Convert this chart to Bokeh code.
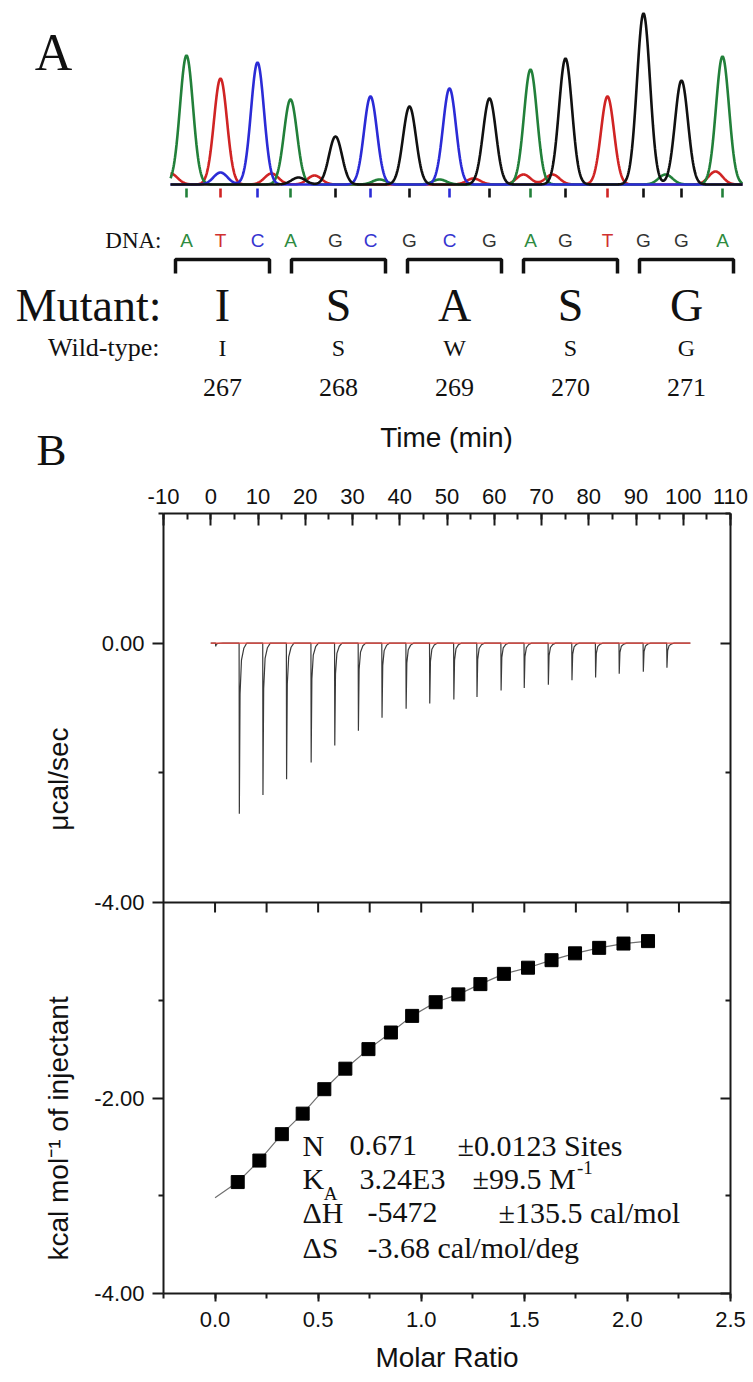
import numpy as np
from bokeh.plotting import figure
from bokeh.models import (Range1d, LinearAxis, FixedTicker, SingleIntervalTicker, Label,
                          CustomJSTickFormatter, NumeralTickFormatter, Span)
from bokeh.embed import file_html
from bokeh.resources import INLINE
from bokeh.core.properties import value

SERIF = "Liberation Serif"
SANS = "Liberation Sans"

# ---------------- Panel A data: Sanger chromatogram ----------------
base_calls = ["A", "T", "C", "A", "G", "C", "G", "C", "G", "A", "G", "T", "G", "G", "A"]
base_scan = [32, 100, 174, 240, 330, 400, 478, 558, 638, 720, 790, 874, 946, 1022, 1104]
peak_signal = [1290, 1060, 1220, 850, 480, 880, 780, 960, 860, 1150, 1260, 880, 1710, 1040, 1280]
minor_call = ["T", "C", "T", "G", "T", "A", "A", "T", "T", "T", "A", "T"]
minor_scan = [0, 100, 202, 256, 288, 418, 538, 606, 706, 764, 990, 1090]
minor_signal = [110, 120, 110, 70, 90, 50, 50, 60, 100, 100, 100, 130]
scan_count = 1145

mutant_aa = ["I", "S", "A", "S", "G"]
wildtype_aa = ["I", "S", "W", "S", "G"]
residue_no = ["267", "268", "269", "270", "271"]

# ---------------- Panel B data: ITC ----------------
inj_time = [1.0, 6.0, 11.0, 16.0, 21.2, 26.2, 31.2, 36.2, 41.3, 46.3, 51.4,
            56.3, 61.4, 66.3, 71.4, 76.4, 81.4, 86.4, 91.5, 96.5]
inj_peak = [-0.05, -2.63, -2.34, -2.10, -1.84, -1.58, -1.35, -1.15, -1.01, -0.93, -0.87,
            -0.83, -0.73, -0.69, -0.64, -0.57, -0.53, -0.47, -0.44, -0.38]
run_start, run_end = 0.0, 101.5

molar_ratio = [0.11, 0.215, 0.324, 0.425, 0.530, 0.632, 0.744, 0.853, 0.956, 1.070,
               1.180, 1.287, 1.401, 1.518, 1.632, 1.746, 1.863, 1.981, 2.100]
heat_kcal = [-2.86, -2.64, -2.37, -2.16, -1.91, -1.70, -1.50, -1.33, -1.16, -1.02,
             -0.94, -0.835, -0.73, -0.667, -0.59, -0.52, -0.464, -0.42, -0.395]
fit_ratio = [0.0] + molar_ratio
fit_heat = [-3.02] + heat_kcal

BASE_COLOR = {"A": "#22803a", "T": "#d02424", "C": "#2b2bd6", "G": "#111111"}
TEXT_COLOR = {"A": "#2e8b40", "T": "#d03030", "C": "#3535d0", "G": "#333333"}

A_H = 475  # height of the upper (panel A) canvas

# ================= Panel A figure =================
pA = figure(width=753, height=A_H, x_range=Range1d(0, 753), y_range=Range1d(A_H, 0),
            output_backend="svg", toolbar_location=None, min_border=0,
            x_axis_location=None, y_axis_location=None)
pA.outline_line_color = None
pA.grid.visible = False
pA.extra_x_ranges = {"scan": Range1d(-340, 1166)}
pA.extra_y_ranges = {"signal": Range1d((184 - A_H) * 10, 1840)}

scan = np.arange(scan_count)
SIG = 13.0
channels = {}
for b in "TCAG":
    tr = np.zeros(scan_count)
    for c, s, h in zip(base_calls, base_scan, peak_signal):
        if c == b:
            tr += h * np.exp(-0.5 * ((scan - s) / SIG) ** 2)
    for c, s, h in zip(minor_call, minor_scan, minor_signal):
        if c == b:
            tr += h * np.exp(-0.5 * ((scan - s) / 14.0) ** 2)
    channels[b] = tr
for b in ["T", "A", "C", "G"]:
    pA.line(scan, channels[b], line_color=BASE_COLOR[b], line_width=2.6,
            x_range_name="scan", y_range_name="signal")
pA.segment(x0=base_scan, y0=[-40] * len(base_scan), x1=base_scan, y1=[-130] * len(base_scan),
           line_color=[BASE_COLOR[c] for c in base_calls], line_width=2.6,
           x_range_name="scan", y_range_name="signal")

pA.text(x=base_scan, y=[240] * len(base_scan), text=base_calls, x_range_name="scan",
        text_color=[TEXT_COLOR[c] for c in base_calls], text_font=value(SANS),
        text_font_size="19px", text_align="center", text_baseline="middle")
pA.text(x=[161], y=[240], text=["DNA:"], text_font=value(SERIF), text_font_size="23px",
        text_align="right", text_baseline="middle", text_color="#111")

codon_x0, codon_pitch, half_w = 222, 116, 47
centers = [codon_x0 + codon_pitch * k for k in range(len(mutant_aa))]
pA.multi_line(xs=[[c - half_w, c - half_w, c + half_w, c + half_w] for c in centers],
              ys=[[273, 259, 259, 273] for _ in centers], line_color="#111", line_width=3.5)

pA.text(x=[161], y=[305], text=["Mutant:"], text_font=value(SERIF), text_font_size="46px",
        text_align="right", text_baseline="middle", text_color="#111")
pA.text(x=centers, y=[305] * 5, text=mutant_aa, text_font=value(SERIF), text_font_size="46px",
        text_align="center", text_baseline="middle", text_color="#111")
pA.text(x=[159], y=[347], text=["Wild-type:"], text_font=value(SERIF), text_font_size="26px",
        text_align="right", text_baseline="middle", text_color="#111")
pA.text(x=centers, y=[347] * 5, text=wildtype_aa, text_font=value(SERIF), text_font_size="24px",
        text_align="center", text_baseline="middle", text_color="#111")
pA.text(x=centers, y=[387] * 5, text=residue_no, text_font=value(SERIF), text_font_size="26px",
        text_align="center", text_baseline="middle", text_color="#111")
pA.text(x=[53], y=[52], text=["A"], text_font=value(SERIF), text_font_size="52px",
        text_align="center", text_baseline="middle", text_color="#111")
pA.text(x=[51], y=[449], text=["B"], text_font=value(SERIF), text_font_size="45px",
        text_align="center", text_baseline="middle", text_color="#111")
pA.text(x=[446], y=[437], text=["Time (min)"], text_font=value(SANS), text_font_size="28px",
        text_align="center", text_baseline="middle", text_color="#111")

# ================= Panel B figure =================
UPPER_H, LOWER_H = 389, 391
raw_top, raw_div = 2.0, -4.0
raw_ppu = UPPER_H / (raw_top - raw_div)
raw_bottom = raw_div - LOWER_H / raw_ppu
heat_div, heat_bottom = 0.0, -4.0
heat_ppu = LOWER_H / (heat_div - heat_bottom)
heat_top = heat_div + UPPER_H / heat_ppu

pB = figure(width=753, height=1382 - A_H, x_range=Range1d(-0.25, 2.5),
            y_range=Range1d(heat_bottom, heat_top),
            output_backend="svg", toolbar_location=None,
            x_axis_location=None, y_axis_location=None,
            min_border_left=163, min_border_right=23, min_border_top=513 - A_H,
            min_border_bottom=89)
pB.outline_line_color = None
pB.grid.visible = False
pB.extra_x_ranges = {"time": Range1d(-10, 110)}
pB.extra_y_ranges = {"raw": Range1d(raw_bottom, raw_top)}


def raw_to_heat(r):
    return round(heat_div + (r - raw_div) * raw_ppu / heat_ppu, 4)


def style(ax):
    ax.axis_line_width = 2
    ax.axis_line_color = "#1a1a1a"
    ax.major_tick_line_width = 2
    ax.minor_tick_line_width = 2
    ax.major_tick_line_color = "#1a1a1a"
    ax.minor_tick_line_color = "#1a1a1a"
    ax.major_label_text_font = SANS
    ax.major_label_text_font_size = "22px"
    ax.major_label_text_color = "#111"
    ax.axis_label_text_font = SANS
    ax.axis_label_text_font_size = "28px"
    ax.axis_label_text_font_style = "normal"
    ax.axis_label_text_color = "#111"


left_major = [raw_to_heat(0.0), heat_div, -2.0, -4.0]
left_minor = [raw_to_heat(-2.0), raw_to_heat(2.0), -1.0, -3.0]

left = LinearAxis(ticker=FixedTicker(ticks=left_major, minor_ticks=left_minor))
style(left)
left.major_label_overrides = {raw_to_heat(0.0): "0.00", heat_div: "-4.00", -2.0: "-2.00", -4.0: "-4.00"}
left.major_tick_out, left.major_tick_in = 11, 0
left.minor_tick_out, left.minor_tick_in = 5, 0
left.major_label_standoff = 8
pB.add_layout(left, "left")

# y titles of the two stacked panels, carried by a bare axis
title_pos = [raw_to_heat(-1.3), -0.96]
ytitles = LinearAxis(ticker=FixedTicker(ticks=title_pos, minor_ticks=[]))
style(ytitles)
ytitles.axis_line_color = None
ytitles.major_tick_line_color = None
ytitles.major_tick_out, ytitles.major_tick_in = 0, 0
ytitles.major_label_text_font_size = "28px"
ytitles.major_label_orientation = np.pi / 2
ytitles.major_label_standoff = 33
ytitles.major_label_overrides = {title_pos[0]: "\u03bccal/sec",
                                 title_pos[1]: "kcal mol\u207b\u00b9 of injectant"}
pB.add_layout(ytitles, "left")

right = LinearAxis(ticker=FixedTicker(ticks=left_major, minor_ticks=left_minor),
                   formatter=CustomJSTickFormatter(code="return ''"))
style(right)
right.major_tick_out, right.major_tick_in = 0, 10
right.minor_tick_out, right.minor_tick_in = 0, 5
pB.add_layout(right, "right")

top = LinearAxis(x_range_name="time", ticker=SingleIntervalTicker(interval=10, num_minor_ticks=2),
                 formatter=NumeralTickFormatter(format="0"))
style(top)
top.major_tick_out, top.major_tick_in = 0, 12
top.minor_tick_out, top.minor_tick_in = 0, 6
top.major_label_standoff = 10
pB.add_layout(top, "above")

bottom = LinearAxis(ticker=SingleIntervalTicker(interval=0.5, num_minor_ticks=2),
                    formatter=NumeralTickFormatter(format="0.0"), axis_label="Molar Ratio")
style(bottom)
bottom.major_tick_out, bottom.major_tick_in = 8, 0
bottom.minor_tick_out, bottom.minor_tick_in = 5, 0
bottom.major_label_standoff = 10
bottom.axis_label_standoff = 12
pB.add_layout(bottom, "below")

# divider between raw thermogram and binding isotherm
pB.add_layout(Span(location=heat_div, dimension="width", line_color="#1a1a1a", line_width=2))
ratio_edge_ticks = [0.25 * k for k in range(10)]
pB.ray(x=ratio_edge_ticks, y=[heat_div] * len(ratio_edge_ticks), length=10, length_units="screen",
       angle=-np.pi / 2, line_color="#1a1a1a", line_width=2)

# raw thermogram
tx, ty = [run_start], [0.0]
shape = [(0.0, 0.0), (0.05, 1.0), (0.2, 0.3), (0.5, 0.1), (1.0, 0.03), (1.6, 0.0)]
for t, d in zip(inj_time, inj_peak):
    for dt, f in shape:
        tx.append(t + dt)
        ty.append(d * f)
tx.append(run_end)
ty.append(0.0)
pB.line(tx, ty, line_color="#3a3a3a", line_width=1.2, x_range_name="time", y_range_name="raw")
pB.line([run_start, run_end], [0.0, 0.0], line_color="#e8453c", line_width=1.3,
        x_range_name="time", y_range_name="raw")

# binding isotherm
pB.line(fit_ratio, fit_heat, line_color="#707070", line_width=1.2)
pB.scatter(molar_ratio, heat_kcal, marker="square", size=13, fill_color="black", line_color="black")


def lab(x, y, text, size):
    pB.add_layout(Label(x=x, y=y, text=text, text_font=SERIF, text_font_size=size,
                        text_color="#111", text_align="left", text_baseline="middle"))


rows = [-2.486, -2.824, -3.171, -3.529]
lab(0.424, rows[0], "N", "30px")
lab(0.652, rows[0], "0.671", "30px")
lab(1.176, rows[0], "\u00b10.0123 Sites", "30px")
lab(0.424, rows[1], "K", "30px")
lab(0.527, rows[1] - 0.15, "A", "19px")
lab(0.701, rows[1], "3.24E3", "30px")
lab(1.249, rows[1], "\u00b199.5 M", "30px")
lab(1.755, rows[1] + 0.11, "-1", "19px")
lab(0.424, rows[2], "\u0394H", "30px")
lab(0.739, rows[2], "-5472", "30px")
lab(1.375, rows[2], "\u00b1135.5 cal/mol", "30px")
lab(0.424, rows[3], "\u0394S", "30px")
lab(0.739, rows[3], "-3.68 cal/mol/deg", "30px")

open("out.html", "w").write(file_html([pA, pB], INLINE))
